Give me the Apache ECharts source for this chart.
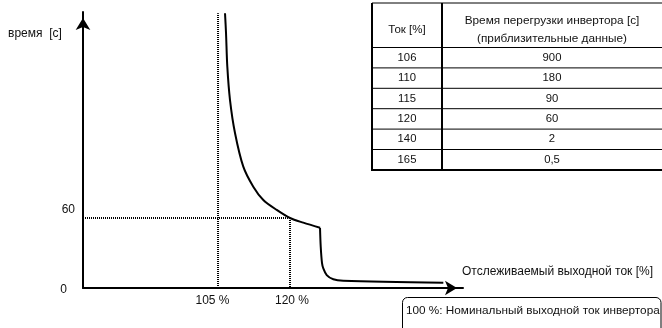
<!DOCTYPE html>
<html><head><meta charset="utf-8">
<script src="https://cdn.jsdelivr.net/npm/echarts@6/dist/echarts.min.js"></script>
<style>html,body{margin:0;padding:0;background:#fff}#c{width:662px;height:328px}</style>
</head><body><div id="c"></div>
<script>
// Curve (schematic), x in % of rated current, y in seconds
const curveX = [106.46, 106.67, 106.94, 107.5, 108.54, 110.27, 112.35, 114.44, 117.23, 120.0, 122.77, 126.25];
const curveY = [235.5, 218.6, 189.7, 161.1, 132.9, 104, 86.8, 75.4, 66.9, 60, 56, 51.7];
const tailX = [126.25, 126.4, 126.67, 126.94, 127.65, 129.02, 131.1, 151.94];
const tailY = [51.7, 35.4, 21.4, 16.9, 11.1, 7.5, 6.3, 4.5];
// guide lines
const guide105X = [105, 105];
const guide105Y = [0, 235.5];
const guide60X = [76.875, 120];
const guide60Y = [60, 60];
const guide120X = [120, 120];
const guide120Y = [60, 0];
// ticks
const xTicks = [105, 120];
const yTicks = [0, 60];
// table
const tableHeader1 = 'Ток [%]';
const tableHeader2a = 'Время перегрузки инвертора [с]';
const tableHeader2b = '(приблизительные данные)';
const tableCurrent = ['106', '110', '115', '120', '140', '165'];
const tableTime = ['900', '180', '90', '60', '2', '0,5'];
const yName = 'время  [с]';
const xName = 'Отслеживаемый выходной ток [%]';
const noteText = '100 %: Номинальный выходной ток инвертора';

const FONT = "'Liberation Sans', Arial, sans-serif";
const zip = (a, b) => a.map((v, i) => [v, b[i]]);

const g = [];
// table
const tL = 372, tR = 662, tTop = 3, hBot = 47.5, rowH = 20.4, colX = 442;
const tBot = hBot + rowH * tableCurrent.length;
const line = (x1, y1, x2, y2, w) => ({type: 'line', shape: {x1, y1, x2, y2}, style: {stroke: '#000', lineWidth: w}, silent: true});
const txt = (x, y, t, size, align) => ({type: 'text', x, y, style: {text: t, fill: '#111', font: size + 'px ' + FONT, align: align || 'center', verticalAlign: 'middle'}, silent: true});
g.push(line(tL, tTop, tR, tTop, 1));
g.push(line(tL, tTop, tL, tBot + 1, 2));
g.push(line(tL, tBot, tR, tBot, 2));
g.push(line(colX, tTop, colX, tBot, 2));
g.push(line(tL, hBot, tR, hBot, 1));
for (let i = 1; i < tableCurrent.length; i++) g.push(line(tL, hBot + rowH * i, tR, hBot + rowH * i, 1));
const c1 = (tL + colX) / 2, c2 = (colX + tR) / 2;
g.push(txt(c1, 30, tableHeader1, 11.5));
g.push(txt(c2, 20.5, tableHeader2a, 11.8));
g.push(txt(c2, 38.5, tableHeader2b, 11.8));
tableCurrent.forEach((v, i) => {
  const y = hBot + rowH * (i + 0.5);
  g.push(txt(c1, y, v, 11.3));
  g.push(txt(c2, y, tableTime[i], 11.3));
});
// axis names
g.push(txt(8, 34, yName, 12, 'left'));
g.push(txt(462, 271.5, xName, 12, 'left'));
// note box
g.push({type: 'rect', shape: {x: 402.5, y: 297.5, width: 258.5, height: 45, r: 5}, style: {fill: '#fff', stroke: '#000', lineWidth: 1}, silent: true});
g.push(txt(406, 311, noteText, 11.75, 'left'));

const chart = echarts.init(document.getElementById('c'), null, {renderer: 'canvas'});
const dotted = {color: '#000', width: 2, type: [1, 1]};
chart.setOption({
  animation: false,
  textStyle: {fontFamily: FONT},
  grid: {left: 83, top: 12, width: 380, height: 276, outerBoundsMode: 'none'},
  xAxis: {
    type: 'value', min: 76.875, max: 156.04,
    axisLine: {show: true, lineStyle: {color: '#000', width: 2}, symbol: ['none', 'arrow'], symbolSize: [11, 12], symbolOffset: [0, -6]},
    axisTick: {show: false}, splitLine: {show: false},
    axisLabel: {
      customValues: xTicks, margin: 7, color: '#111', fontSize: 12, fontFamily: FONT,
      formatter: v => v === 105 ? '{a|105 %}' : '{b|' + v + ' %}',
      rich: {a: {fontSize: 12, fontFamily: FONT, padding: [0, 11, 0, 0]}, b: {fontSize: 12, fontFamily: FONT, padding: [0, 0, 0, 4]}}
    }
  },
  yAxis: {
    type: 'value', min: 0, max: 236.57,
    axisLine: {show: true, onZero: false, lineStyle: {color: '#000', width: 2}, symbol: ['none', 'arrow'], symbolSize: [11, 12], symbolOffset: [0, -6]},
    axisTick: {show: false}, splitLine: {show: false},
    axisLabel: {
      customValues: yTicks, margin: 8, color: '#111', fontSize: 12, fontFamily: FONT,
      formatter: v => v === 0 ? '{z|0}' : '{s|' + v + '}',
      rich: {z: {fontSize: 12, fontFamily: FONT, padding: [3, 8, 0, 0]}, s: {fontSize: 12, fontFamily: FONT, padding: [0, 0, 16, 0]}}
    }
  },
  series: [
    {type: 'line', data: zip(guide105X, guide105Y), showSymbol: false, lineStyle: dotted, silent: true},
    {type: 'line', data: zip(guide60X, guide60Y), showSymbol: false, lineStyle: dotted, silent: true},
    {type: 'line', data: zip(guide120X, guide120Y), showSymbol: false, lineStyle: dotted, silent: true},
    {type: 'line', data: zip(curveX, curveY), showSymbol: false, smooth: 0.3, lineStyle: {color: '#000', width: 2}, silent: true},
    {type: 'line', data: zip(tailX, tailY), showSymbol: false, smooth: 0.3, lineStyle: {color: '#000', width: 2}, silent: true}
  ],
  graphic: g
});
</script></body></html>
